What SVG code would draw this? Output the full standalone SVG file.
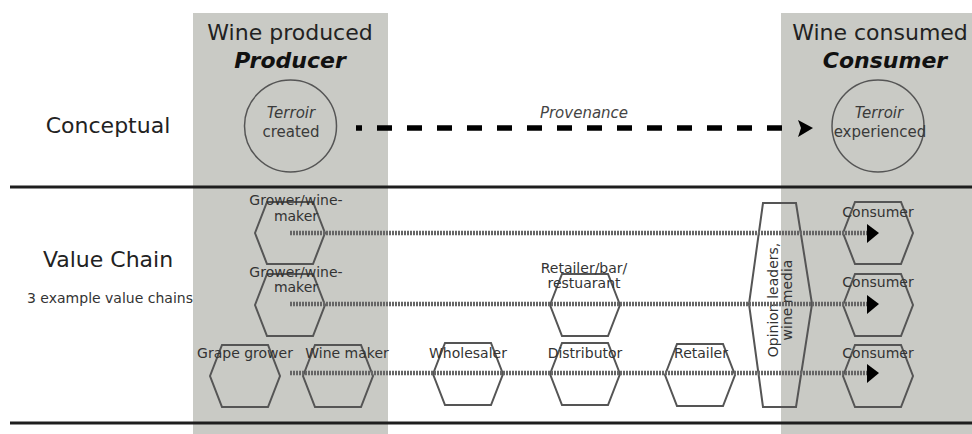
<svg xmlns="http://www.w3.org/2000/svg" width="972" height="434" viewBox="0 0 972 434">
  <style>
    text { font-family: "DejaVu Sans", Verdana, sans-serif; fill: #222; }
    .title { font-size: 22px; text-anchor: middle; }
    .role { font-size: 22px; font-weight: bold; font-style: italic; text-anchor: middle; fill: #111; }
    .row { font-size: 22px; text-anchor: middle; }
    .small { font-size: 14px; text-anchor: middle; fill: #333; }
    .circ { font-size: 15px; text-anchor: middle; fill: #3a3a3a; }
    .it { font-style: italic; }
    .panel { fill: #c9cac5; }
    .hex { fill: none; stroke: #555; stroke-width: 2; }
    .ring { fill: none; stroke: #555; stroke-width: 1.5; }
    .chain { stroke: #666; stroke-width: 4.5; stroke-dasharray: 2 1; fill: none; }
    .rule { stroke: #1e1e1e; stroke-width: 3; }
    .head { fill: #000; }
  </style>
  <defs>
    <polygon id="hexagon" class="hex" points="-35,0 -23,-31 23,-31 35,0 23,31 -23,31"/>
  </defs>

  <!-- background panels for producer and consumer columns -->
  <rect class="panel" x="193" y="13" width="195" height="421"/>
  <rect class="panel" x="781" y="13" width="191" height="421"/>

  <!-- row separators -->
  <line class="rule" x1="10" y1="187" x2="972" y2="187"/>
  <line class="rule" x1="10" y1="423" x2="972" y2="423"/>

  <!-- column headings -->
  <g id="producer-heading">
    <text class="title" x="290" y="40">Wine produced</text>
    <text class="role" x="290" y="68">Producer</text>
  </g>
  <g id="consumer-heading">
    <text class="title" x="880" y="40">Wine consumed</text>
    <text class="role" x="885" y="68">Consumer</text>
  </g>

  <!-- row headings -->
  <g id="row-conceptual">
    <text class="row" x="108" y="133">Conceptual</text>
  </g>
  <g id="row-value-chain">
    <text class="row" x="108" y="267">Value Chain</text>
    <text class="small" x="110" y="303">3 example value chains</text>
  </g>

  <!-- conceptual row -->
  <g id="terroir-created">
    <circle class="ring" cx="290.5" cy="126" r="46"/>
    <text class="circ it" x="291" y="118">Terroir</text>
    <text class="circ" x="291" y="137">created</text>
  </g>
  <g id="terroir-experienced">
    <circle class="ring" cx="878" cy="126" r="46"/>
    <text class="circ it" x="879" y="118">Terroir</text>
    <text class="circ" x="880" y="137">experienced</text>
  </g>

  <!-- value chain nodes -->
  <g id="grower-winemaker-1">
    <use href="#hexagon" x="290" y="233"/>
    <text class="small" x="296" y="205">Grower/wine-</text>
    <text class="small" x="296" y="221">maker</text>
  </g>
  <g id="grower-winemaker-2">
    <use href="#hexagon" x="290" y="305"/>
    <text class="small" x="296" y="277">Grower/wine-</text>
    <text class="small" x="296" y="292">maker</text>
  </g>
  <g id="grape-grower">
    <use href="#hexagon" x="245" y="376"/>
    <text class="small" x="245" y="358">Grape grower</text>
  </g>
  <g id="wine-maker">
    <use href="#hexagon" x="338" y="376"/>
    <text class="small" x="347" y="358">Wine maker</text>
  </g>
  <g id="wholesaler">
    <use href="#hexagon" x="468" y="374"/>
    <text class="small" x="468" y="358">Wholesaler</text>
  </g>
  <g id="distributor">
    <use href="#hexagon" x="585" y="374"/>
    <text class="small" x="585" y="358">Distributor</text>
  </g>
  <g id="retailer-bar">
    <use href="#hexagon" x="585" y="305"/>
    <text class="small" x="584" y="273">Retailer/bar/</text>
    <text class="small" x="584" y="288">restuarant</text>
  </g>
  <g id="retailer">
    <use href="#hexagon" x="700" y="375"/>
    <text class="small" x="701" y="358">Retailer</text>
  </g>
  <g id="opinion-leaders">
    <polygon class="hex" points="763,203 796,203 812,304 796,407 763,407 749,304"/>
    <g transform="translate(778,300) rotate(-90)">
      <text class="small" x="0" y="0">Opinion leaders,</text>
      <text class="small" x="0" y="14">wine media</text>
    </g>
  </g>
  <g id="consumer-1">
    <use href="#hexagon" x="878" y="233"/>
    <text class="small" x="878" y="217">Consumer</text>
  </g>
  <g id="consumer-2">
    <use href="#hexagon" x="878" y="305"/>
    <text class="small" x="878" y="287">Consumer</text>
  </g>
  <g id="consumer-3">
    <use href="#hexagon" x="878" y="376"/>
    <text class="small" x="878" y="358">Consumer</text>
  </g>

  <!-- connectors -->
  <g id="connectors">
    <line x1="356" y1="128" x2="783" y2="128" stroke="#000" stroke-width="5.5" stroke-dasharray="15 15" stroke-dashoffset="9"/>
    <polygon class="head" points="798,120 813,128 798,137 801,128"/>
    <text class="circ it" x="584" y="118" style="fill:#444">Provenance</text>

    <line class="chain" x1="290" y1="233" x2="868" y2="233"/>
    <line class="chain" x1="290" y1="304" x2="868" y2="304"/>
    <line class="chain" x1="290" y1="373" x2="868" y2="373"/>
    <polygon class="head" points="867,224 879,233 867,243"/>
    <polygon class="head" points="867,295 879,304 867,314"/>
    <polygon class="head" points="867,364 879,373 867,383"/>
  </g>
</svg>
